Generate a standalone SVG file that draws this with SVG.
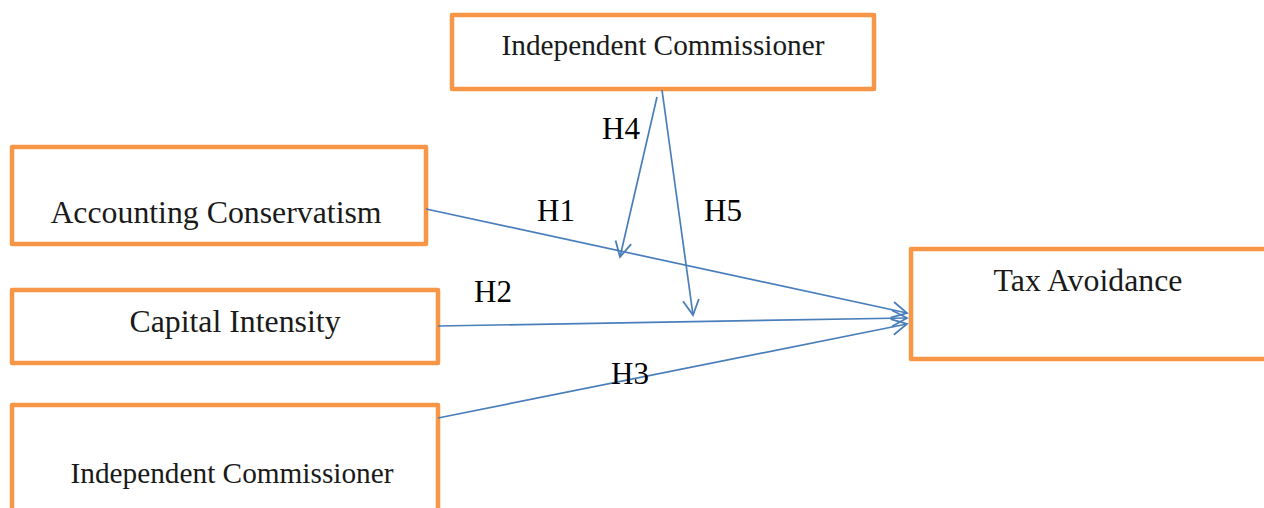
<svg xmlns="http://www.w3.org/2000/svg" width="1264" height="508" viewBox="0 0 1264 508">
<style>
.box{fill:#fff;stroke:#F79646;stroke-width:4.5;stroke-linejoin:round}
.t{font-family:"Liberation Serif","Times New Roman",serif;fill:#1a1a1a}
.lbl{font-family:"Liberation Serif","Times New Roman",serif;fill:#000;font-size:31px}
.c{fill:none;stroke:#4A7EBB;stroke-width:1.7}
</style>
<defs>
<marker id="arr" markerUnits="userSpaceOnUse" markerWidth="24" markerHeight="24" viewBox="0 0 24 24" refX="19" refY="12" orient="auto">
<path d="M4,4 L19,12 L4,20" fill="none" stroke="#4A7EBB" stroke-width="1.8"/>
</marker>
</defs>
<rect width="1264" height="508" fill="#fff"/>
<g id="node-top">
<rect class="box" x="452" y="15" width="422" height="74"/>
<text class="t" x="663" y="55" font-size="29.3" text-anchor="middle">Independent Commissioner</text>
</g>
<g id="node-accounting">
<rect class="box" x="12" y="147" width="414" height="97"/>
<text class="t" x="216" y="223" font-size="31.8" text-anchor="middle">Accounting Conservatism</text>
</g>
<g id="node-capital">
<rect class="box" x="12" y="290" width="426" height="73"/>
<text class="t" x="235" y="332" font-size="31.8" text-anchor="middle" fill="#000">Capital Intensity</text>
</g>
<g id="node-bottom">
<rect class="box" x="12" y="405" width="426" height="110"/>
<text class="t" x="232" y="483" font-size="29.3" text-anchor="middle">Independent Commissioner</text>
</g>
<g id="node-tax">
<rect class="box" x="911" y="249" width="360" height="110"/>
<text class="t" x="1088" y="291" font-size="31.8" text-anchor="middle" fill="#000">Tax Avoidance</text>
</g>
<g id="connectors">
<line class="c" x1="426" y1="209" x2="907" y2="313" marker-end="url(#arr)"/>
<line class="c" x1="438" y1="326" x2="907" y2="318" marker-end="url(#arr)"/>
<line class="c" x1="438" y1="418" x2="907" y2="324" marker-end="url(#arr)"/>
<line class="c" x1="657" y1="97" x2="620" y2="257" marker-end="url(#arr)"/>
<line class="c" x1="662" y1="90" x2="693" y2="315" marker-end="url(#arr)"/>
<text class="lbl" x="602" y="139">H4</text>
<text class="lbl" x="537" y="221">H1</text>
<text class="lbl" x="704" y="221">H5</text>
<text class="lbl" x="474" y="302">H2</text>
<text class="lbl" x="611" y="384">H3</text>
</g>
</svg>
